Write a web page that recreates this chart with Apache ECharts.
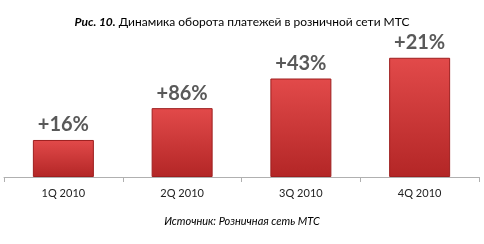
<!DOCTYPE html>
<html><head><meta charset="utf-8">
<script src="https://cdn.jsdelivr.net/npm/echarts@6/dist/echarts.min.js"></script>
<style>html,body{margin:0;padding:0;background:#fff}#c{width:484px;height:244px}</style>
</head><body><div id="c"></div>
<script>
const categories = ['1Q 2010', '2Q 2010', '3Q 2010', '4Q 2010'];
const turnoverIndex = [100, 186, 266, 322];
const growthLabels = ['+16%', '+86%', '+43%', '+21%'];
const titleBold = 'Рис. 10.';
const titleRest = ' Динамика оборота платежей в розничной сети МТС';
const sourceText = 'Источник: Розничная сеть МТС';

const chart = echarts.init(document.getElementById('c'), null, {renderer: 'canvas'});
const barColor = new echarts.graphic.LinearGradient(0, 0, 0, 1, [
  {offset: 0, color: '#e24a4a'},
  {offset: 1, color: '#b32626'}
]);
chart.setOption({
  animation: false,
  title: [{
    text: '{b|' + titleBold + '}{n|' + titleRest + '}',
    left: 'center', top: 11,
    textStyle: {fontWeight: 'normal', rich: {
      b: {fontFamily: 'Lato', fontSize: 12, fontWeight: 'bold', fontStyle: 'italic', color: '#000'},
      n: {fontFamily: 'Lato', fontSize: 12, fontWeight: 'normal', color: '#000'}
    }}
  }, {
    text: sourceText, left: 'center', top: 211,
    textStyle: {fontFamily: 'Lato', fontSize: 11, fontStyle: 'italic', fontWeight: 'normal', color: '#000'}
  }],
  grid: {left: 4, right: 5, top: 40, bottom: 67, containLabel: false},
  xAxis: {
    type: 'category', data: categories,
    axisLine: {lineStyle: {color: '#b0b0b0'}},
    axisTick: {show: true, length: 5, lineStyle: {color: '#b0b0b0'}},
    axisLabel: {fontFamily: 'Lato', fontSize: 11, color: '#222', margin: 11}
  },
  yAxis: {type: 'value', min: 0, max: 370, show: false, splitLine: {show: false}},
  series: [{
    type: 'bar', data: turnoverIndex, barWidth: 61,
    itemStyle: {color: barColor, borderColor: '#9e1f1f', borderWidth: 1},
    label: {
      show: true, position: 'top', distance: 5,
      formatter: p => growthLabels[p.dataIndex],
      fontFamily: 'Lato', fontSize: 20, fontWeight: 'bold', color: '#595959'
    }
  }]
});
</script></body></html>
